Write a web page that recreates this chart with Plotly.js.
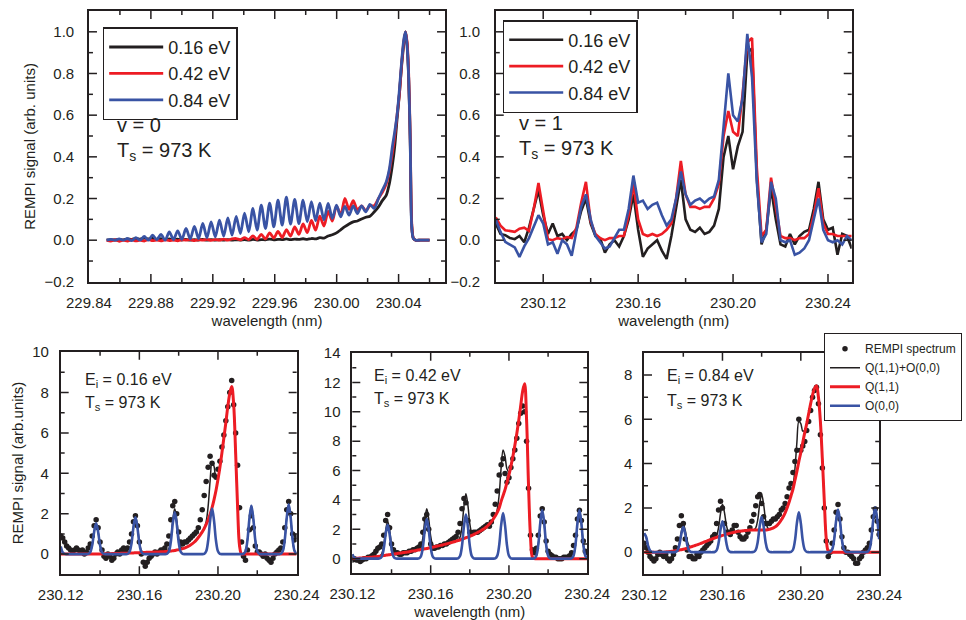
<!DOCTYPE html>
<html>
<head>
<meta charset="utf-8">
<script src="https://cdn.plot.ly/plotly-3.0.1.min.js"></script>
<style>html,body{margin:0;padding:0;background:#fff;}#chart{width:966px;height:620px;}</style>
</head>
<body>
<div id="chart"></div>
<script>
// ---------- Top-left panel (v = 0) ----------
const xTL = [229.8514, 229.8541, 229.8568, 229.8595, 229.8622, 229.8649, 229.8676, 229.8703, 229.8730, 229.8757,
  229.8784, 229.8811, 229.8838, 229.8865, 229.8892, 229.8919, 229.8946, 229.8973, 229.9000, 229.9027,
  229.9054, 229.9081, 229.9108, 229.9135, 229.9162, 229.9189, 229.9216, 229.9243, 229.9270, 229.9297,
  229.9324, 229.9351, 229.9378, 229.9405, 229.9432, 229.9459, 229.9486, 229.9513, 229.9540, 229.9567,
  229.9594, 229.9621, 229.9648, 229.9675, 229.9702, 229.9729, 229.9756, 229.9783, 229.9810, 229.9837,
  229.9864, 229.9891, 229.9918, 229.9945, 229.9972, 229.9999, 230.0026, 230.0053, 230.0080, 230.0107,
  230.0134, 230.0161, 230.0188, 230.0215, 230.0242,
  230.0270, 230.0295, 230.0320, 230.0340, 230.0360, 230.0375, 230.0390, 230.0405, 230.0420, 230.0435,
  230.0445, 230.0455, 230.0465, 230.0475, 230.0485, 230.0495, 230.0510, 230.0540, 230.0570, 230.0600];
const tlBlack = [0.0, 0.003, 0.001, 0.004, 0.002, 0.006, 0.004, 0.008, 0.005, 0.01,
  0.006, 0.009, 0.004, 0.007, 0.003, 0.006, 0.002, 0.005, 0.001, 0.004,
  0.0, 0.003, 0.001, 0.004, 0.0, 0.003, 0.001, 0.002, 0.0, 0.003,
  0.0, 0.002, 0.001, 0.003, 0.0, 0.004, 0.001, 0.003, 0.002, 0.005,
  0.002, 0.004, 0.003, 0.006, 0.003, 0.005, 0.004, 0.007, 0.004, 0.008,
  0.006, 0.012, 0.01, 0.02, 0.026, 0.035, 0.05, 0.065, 0.078, 0.088,
  0.092, 0.102, 0.11, 0.115, 0.135,
  0.16, 0.19, 0.215, 0.27, 0.36, 0.45, 0.58, 0.7, 0.84, 0.95,
  1.0, 0.94, 0.78, 0.48, 0.07, 0.01, 0.0, 0.0, 0.0, 0.0];
const tlRed = [0.0, -0.004, 0.002, -0.005, 0.0, -0.004, 0.002, -0.003, 0.0, -0.004,
  0.003, -0.002, 0.0, -0.003, 0.002, -0.002, 0.001, -0.003, 0.002, 0.0,
  0.003, -0.002, 0.002, 0.0, 0.004, -0.001, 0.003, 0.0, 0.005, 0.0,
  0.006, 0.008, 0.002, 0.012, 0.003, 0.02, 0.004, 0.028, 0.006, 0.035,
  0.01, 0.042, 0.013, 0.05, 0.02, 0.064, 0.028, 0.078, 0.036, 0.095,
  0.048, 0.115, 0.068, 0.138, 0.092, 0.165, 0.12, 0.2, 0.148, 0.19,
  0.145, 0.165, 0.142, 0.165, 0.165,
  0.2, 0.23, 0.27, 0.33, 0.42, 0.5, 0.6, 0.7, 0.85, 0.96,
  1.0, 0.95, 0.8, 0.5, 0.08, 0.01, 0.0, 0.0, 0.0, 0.0];
const tlBlue = [0.0, 0.004, 0.0, 0.006, 0.0, 0.008, -0.002, 0.012, 0.0, 0.018,
  0.0, 0.024, 0.002, 0.028, 0.0, 0.04, 0.003, 0.045, 0.004, 0.056,
  0.006, 0.066, 0.008, 0.08, 0.012, 0.088, 0.016, 0.096, 0.02, 0.107,
  0.024, 0.114, 0.032, 0.13, 0.04, 0.152, 0.048, 0.168, 0.056, 0.178,
  0.064, 0.192, 0.072, 0.206, 0.077, 0.196, 0.08, 0.192, 0.088, 0.185,
  0.093, 0.178, 0.098, 0.176, 0.104, 0.168, 0.112, 0.162, 0.12, 0.165,
  0.128, 0.165, 0.136, 0.172, 0.152,
  0.2, 0.24, 0.28, 0.34, 0.45, 0.52, 0.6, 0.72, 0.86, 0.97,
  1.0, 0.93, 0.78, 0.48, 0.06, 0.008, 0.0, 0.0, 0.0, 0.0];

// ---------- Top-right panel (v = 1) ----------
const xTR = [230.100, 230.102, 230.104, 230.106, 230.108, 230.110, 230.112, 230.114, 230.116, 230.118,
  230.120, 230.122, 230.124, 230.126, 230.128, 230.130, 230.132, 230.134, 230.136, 230.138,
  230.140, 230.142, 230.144, 230.146, 230.148, 230.150, 230.152, 230.154, 230.156, 230.158,
  230.160, 230.162, 230.164, 230.166, 230.168, 230.170, 230.172, 230.174, 230.176, 230.178,
  230.180, 230.182, 230.184, 230.186, 230.188, 230.190, 230.192, 230.194, 230.196, 230.198,
  230.200, 230.202, 230.204, 230.206, 230.208, 230.210, 230.212, 230.214, 230.216, 230.218,
  230.220, 230.222, 230.224, 230.226, 230.228, 230.230, 230.232, 230.234, 230.236, 230.238,
  230.240, 230.242, 230.244, 230.246, 230.248, 230.250];
const trBlack = [0.08, 0.03, 0.024, 0.01, 0.005, 0.02, -0.01, 0.06, 0.15, 0.24,
  0.12, 0.03, 0.08, 0.02, 0.03, 0.0, 0.03, 0.05, 0.14, 0.2,
  0.08, 0.02, 0.01, -0.06, -0.02, 0.0, -0.03, 0.02, 0.1, 0.22,
  0.05, -0.08, -0.04, -0.02, 0.0, -0.05, -0.09, 0.02, 0.15, 0.29,
  0.1, 0.05, 0.04, 0.06, 0.03, 0.04, 0.07, 0.15, 0.4, 0.5,
  0.34, 0.45, 0.52, 0.9, 0.92, 0.3, -0.02, 0.05, 0.25, 0.1,
  -0.02, -0.03, 0.03, -0.02, 0.02, 0.04, 0.05, 0.15, 0.28, 0.1,
  0.05, 0.06, -0.07, 0.03, 0.02, -0.04];
const trRed = [0.11, 0.07, 0.048, 0.045, 0.04, 0.055, 0.06, 0.045, 0.15, 0.275,
  0.14, 0.005, 0.0, 0.01, 0.005, 0.015, 0.01, 0.06, 0.18, 0.28,
  0.09, 0.03, 0.01, 0.0, 0.01, 0.01, 0.02, 0.02, 0.12, 0.27,
  0.1, 0.03, 0.02, 0.03, 0.02, 0.03, 0.05, 0.08, 0.2, 0.38,
  0.22, 0.16, 0.16, 0.15, 0.16, 0.16, 0.2, 0.27, 0.5, 0.62,
  0.52, 0.5, 0.7, 0.95, 0.97, 0.35, 0.02, 0.05, 0.3, 0.15,
  0.02, 0.01, 0.01, 0.0, 0.01, 0.01, 0.03, 0.12, 0.25, 0.08,
  0.03, 0.03, 0.02, 0.02, 0.02, 0.02];
const trBlue = [0.10, 0.04, -0.008, -0.02, -0.035, -0.08, -0.03, 0.01, 0.07, 0.12,
  0.08, -0.02, -0.01, -0.065, 0.0, -0.02, -0.075, 0.05, 0.16, 0.22,
  0.1, 0.02, -0.01, -0.04, -0.03, 0.01, 0.05, 0.05, 0.15, 0.31,
  0.18, 0.19, 0.15, 0.17, 0.18, 0.12, 0.07, 0.1, 0.2, 0.33,
  0.22, 0.17, 0.19, 0.2, 0.18, 0.2, 0.21, 0.29, 0.55, 0.8,
  0.6, 0.57, 0.68, 0.99, 0.78, 0.28, -0.01, 0.03, 0.28, 0.2,
  0.0, -0.01, 0.0, -0.07, -0.06, -0.04, 0.0, 0.1, 0.2, 0.05,
  0.0, -0.01, 0.0, -0.02, 0.02, 0.0];

// ---------- Bottom panels (shared wavelength grid) ----------
const xB = [230.120, 230.121, 230.122, 230.123, 230.124, 230.125, 230.126, 230.127, 230.128, 230.129,
  230.130, 230.131, 230.132, 230.133, 230.134, 230.135, 230.136, 230.137, 230.138, 230.139,
  230.140, 230.141, 230.142, 230.143, 230.144, 230.145, 230.146, 230.147, 230.148, 230.149,
  230.150, 230.151, 230.152, 230.153, 230.154, 230.155, 230.156, 230.157, 230.158, 230.159,
  230.160, 230.161, 230.162, 230.163, 230.164, 230.165, 230.166, 230.167, 230.168, 230.169,
  230.170, 230.171, 230.172, 230.173, 230.174, 230.175, 230.176, 230.177, 230.178, 230.179,
  230.180, 230.181, 230.182, 230.183, 230.184, 230.185, 230.186, 230.187, 230.188, 230.189,
  230.190, 230.191, 230.192, 230.193, 230.194, 230.195, 230.196, 230.197, 230.198, 230.199,
  230.200, 230.201, 230.202, 230.203, 230.204, 230.205, 230.206, 230.207, 230.208, 230.209,
  230.210, 230.211, 230.212, 230.213, 230.214, 230.215, 230.216, 230.217, 230.218, 230.219,
  230.220, 230.221, 230.222, 230.223, 230.224, 230.225, 230.226, 230.227, 230.228, 230.229,
  230.230, 230.231, 230.232, 230.233, 230.234, 230.235, 230.236, 230.237, 230.238, 230.239,
  230.240];

// E_i = 0.16 eV
const p1Dots = [0.9, 0.8, 0.6, 0.4, 0.3, 0.2, 0.1, 0.2, 0.3, 0.2,
  0.1, 0.2, 0.0, 0.1, 0.3, 0.5, 0.9, 1.4, 1.7, 1.3,
  0.6, 0.2, -0.1, -0.2, 0.0, -0.1, -0.3, -0.2, 0.0, 0.1,
  0.0, 0.2, 0.3, 0.2, 0.3, 0.6, 1.0, 1.6, 1.9, 1.4,
  0.6, 0.0, -0.4, -0.6, -0.4, -0.2, -0.1, 0.0, 0.1, 0.0,
  0.1, 0.2, 0.2, 0.3, 0.5, 0.9, 1.7, 2.4, 2.6, 2.0,
  1.1, 0.6, 0.5, 0.6, 0.6, 0.7, 0.8, 0.9, 1.0, 1.1,
  1.3, 1.7, 2.2, 2.9, 3.6, 4.3, 4.85, 4.5, 3.9, 3.8,
  4.2, 4.6, 5.3, 5.9, 6.6, 7.3, 8.0, 8.6, 7.4, 6.0,
  4.4, 2.3, 0.6, -0.1, -0.3, 0.2, 1.2, 1.9, 1.3, 0.4,
  0.1, 0.1, 0.0, -0.1, 0.0, -0.2, -0.3, -0.4, -0.2, 0.0,
  0.1, 0.2, 0.3, 0.6, 1.3, 2.2, 2.6, 2.0, 1.0, 0.7,
  0.9];
const p1Q11 = [0, 0, 0, 0, 0, 0, 0, 0, 0, 0,
  0, 0, 0, 0, 0, 0, 0, 0, 0, 0.005,
  0.01, 0.012, 0.015, 0.017, 0.02, 0.022, 0.025, 0.028, 0.03, 0.033,
  0.036, 0.039, 0.042, 0.045, 0.048, 0.052, 0.056, 0.06, 0.064, 0.068,
  0.072, 0.076, 0.08, 0.084, 0.088, 0.092, 0.096, 0.1, 0.104, 0.108,
  0.11, 0.115, 0.12, 0.125, 0.13, 0.14, 0.15, 0.165, 0.18, 0.2,
  0.22, 0.245, 0.27, 0.3, 0.34, 0.39, 0.45, 0.52, 0.6, 0.7,
  0.82, 0.95, 1.1, 1.27, 1.47, 1.7, 1.97, 2.3, 2.7, 3.15,
  3.7, 4.3, 5.0, 5.75, 6.5, 7.3, 7.95, 8.3, 7.4, 5.0,
  2.3, 0.4, 0, 0, 0, 0, 0, 0, 0, 0,
  0, 0, 0, 0, 0, 0, 0, 0, 0, 0,
  0, 0, 0, 0, 0, 0, 0, 0, 0, 0,
  0];
const p1O00 = [0.37, 0.08, 0.01, 0, 0, 0, 0, 0, 0, 0,
  0, 0, 0, 0, 0.01, 0.09, 0.44, 1.11, 1.52, 1.11,
  0.44, 0.09, 0.01, 0, 0, 0, 0, 0, 0, 0,
  0, 0, 0, 0, 0.01, 0.11, 0.53, 1.33, 1.82, 1.33,
  0.53, 0.11, 0.01, 0, 0, 0, 0, 0, 0, 0,
  0, 0, 0, 0, 0.015, 0.12, 0.6, 1.51, 2.07, 1.51,
  0.6, 0.12, 0.015, 0, 0, 0, 0, 0, 0, 0,
  0, 0, 0, 0.016, 0.14, 0.66, 1.65, 2.26, 1.65, 0.66,
  0.14, 0.016, 0, 0, 0, 0, 0, 0, 0, 0,
  0, 0, 0, 0.017, 0.14, 0.69, 1.74, 2.39, 1.74, 0.69,
  0.14, 0.017, 0, 0, 0, 0, 0, 0, 0, 0,
  0, 0, 0.017, 0.15, 0.72, 1.8, 2.47, 1.8, 0.72, 0.15,
  0.017];

// E_i = 0.42 eV
const p2Dots = [-0.1, 0.0, -0.1, -0.1, -0.2, -0.1, 0.0, 0.0, 0.1, 0.1,
  0.2, 0.3, 0.5, 0.7, 0.8, 1.0, 1.6, 2.6, 3.0, 2.1,
  1.0, 0.6, 0.4, 0.4, 0.3, 0.3, 0.4, 0.4, 0.4, 0.5,
  0.5, 0.6, 0.6, 0.7, 0.8, 1.0, 1.8, 2.7, 3.0, 2.0,
  1.0, 0.7, 0.7, 0.8, 0.8, 0.9, 0.9, 1.0, 1.0, 1.1,
  1.2, 1.3, 1.4, 1.5, 1.8, 2.4, 3.4, 4.1, 3.8, 2.6,
  1.8, 1.7, 1.8, 1.8, 1.8, 1.9, 2.0, 2.1, 2.2, 2.3,
  2.2, 2.5, 3.0, 3.7, 4.6, 5.7, 6.4, 6.8, 5.8, 5.2,
  5.5, 6.2, 6.8, 7.4, 8.2, 9.2, 9.9, 10.4, 10.0, 8.0,
  4.8, 1.6, 0.6, 0.4, 0.7, 1.6, 2.9, 3.4, 2.5, 1.2,
  0.5, 0.3, 0.2, 0.1, 0.1, 0.0, 0.0, 0.0, 0.1, 0.1,
  0.1, 0.2, 0.4, 0.9, 1.6, 2.7, 3.3, 2.6, 1.2, 0.5,
  0.4];
const p2Q11 = [0, 0.01, 0.02, 0.03, 0.04, 0.05, 0.06, 0.07, 0.08, 0.09,
  0.1, 0.12, 0.13, 0.15, 0.17, 0.19, 0.21, 0.23, 0.25, 0.27,
  0.29, 0.31, 0.33, 0.35, 0.37, 0.39, 0.41, 0.43, 0.45, 0.47,
  0.5, 0.52, 0.54, 0.57, 0.59, 0.62, 0.64, 0.67, 0.69, 0.72,
  0.75, 0.78, 0.81, 0.84, 0.87, 0.9, 0.93, 0.97, 1.0, 1.04,
  1.07, 1.11, 1.15, 1.19, 1.23, 1.27, 1.32, 1.37, 1.42, 1.47,
  1.52, 1.58, 1.64, 1.71, 1.78, 1.85, 1.93, 2.01, 2.1, 2.22,
  2.35, 2.5, 2.7, 2.9, 3.15, 3.45, 3.9, 4.3, 4.7, 5.2,
  5.7, 6.3, 6.95, 7.7, 8.5, 9.4, 10.4, 11.4, 11.9, 9.5,
  5.0, 1.5, 0.1, 0, 0, 0, 0, 0, 0, 0,
  0, 0, 0, 0, 0, 0, 0, 0, 0, 0,
  0, 0, 0, 0, 0, 0, 0, 0, 0, 0,
  0];
const p2O00 = [0.3, 0.05, 0, 0, 0, 0, 0, 0, 0, 0,
  0, 0, 0, 0, 0.016, 0.14, 0.67, 1.68, 2.3, 1.68,
  0.67, 0.14, 0.016, 0, 0, 0, 0, 0, 0, 0,
  0, 0, 0, 0, 0.02, 0.16, 0.78, 1.97, 2.7, 1.97,
  0.78, 0.16, 0.02, 0, 0, 0, 0, 0, 0, 0,
  0, 0, 0, 0, 0.02, 0.18, 0.87, 2.19, 3.0, 2.19,
  0.87, 0.18, 0.02, 0, 0, 0, 0, 0, 0, 0,
  0, 0, 0, 0.02, 0.19, 0.9, 2.26, 3.1, 2.26, 0.9,
  0.19, 0.02, 0, 0, 0, 0, 0, 0, 0, 0,
  0, 0, 0, 0.02, 0.2, 0.96, 2.41, 3.3, 2.41, 0.96,
  0.2, 0.02, 0, 0, 0, 0, 0, 0, 0, 0,
  0, 0, 0.02, 0.2, 0.96, 2.41, 3.3, 2.41, 0.96, 0.2,
  0.02];

// E_i = 0.84 eV
const p3Dots = [0.4, 0.2, 0.0, -0.2, -0.3, -0.4, -0.3, -0.1, 0.0, -0.1,
  -0.2, -0.1, -0.3, -0.4, -0.3, -0.1, 0.2, 0.6, 1.2, 1.65,
  1.3, 0.6, 0.1, -0.2, -0.2, -0.3, -0.3, -0.1, -0.2, 0.0,
  0.1, 0.2, 0.3, 0.4, 0.5, 0.7, 0.8, 1.3, 1.9, 2.3,
  2.0, 1.3, 0.9, 0.9, 0.8, 1.0, 1.2, 1.2, 0.9, 0.7,
  0.6, 0.6, 0.7, 0.9, 1.1, 1.4, 1.7, 2.1, 2.5, 2.6,
  2.2, 1.6, 1.3, 1.3, 1.3, 1.4, 1.5, 1.5, 1.6, 1.7,
  1.9, 2.0, 2.2, 2.5, 2.9, 3.1, 3.6, 4.1, 4.6, 6.0,
  4.6, 4.8, 5.0, 5.5, 5.9, 6.4, 7.0, 7.3, 7.45, 6.7,
  5.3, 3.8, 2.0, 0.5, -0.2, 0.0, 0.4, 1.0, 1.8, 2.15,
  1.5, 0.7, 0.2, 0.0, 0.0, -0.1, -0.2, -0.3, -0.5, -0.5,
  -0.3, -0.2, 0.0, 0.1, 0.2, 0.4, 1.0, 1.6, 1.95, 1.4,
  0.8];
const p3Q11 = [0, 0, 0, 0, 0, 0, 0, 0, 0, 0,
  0.0, 0.01, 0.02, 0.03, 0.04, 0.05, 0.07, 0.08, 0.1, 0.11,
  0.13, 0.16, 0.18, 0.21, 0.24, 0.27, 0.3, 0.33, 0.36, 0.4,
  0.43, 0.47, 0.5, 0.54, 0.57, 0.61, 0.64, 0.67, 0.7, 0.73,
  0.76, 0.78, 0.81, 0.84, 0.86, 0.88, 0.9, 0.92, 0.94, 0.95,
  0.96, 0.97, 0.98, 0.99, 1.0, 1.0, 1.0, 1.0, 1.0, 1.0,
  1.0, 1.0, 1.0, 1.01, 1.03, 1.06, 1.1, 1.15, 1.22, 1.32,
  1.45, 1.6, 1.78, 2.0, 2.25, 2.55, 2.85, 3.25, 3.65, 4.1,
  4.5, 4.95, 5.4, 5.8, 6.25, 6.7, 7.1, 7.4, 7.52, 7.0,
  5.9, 4.2, 2.3, 0.6, 0.05, 0, 0, 0, 0, 0,
  0, 0, 0, 0, 0, 0, 0, 0, 0, 0,
  0, 0, 0, 0, 0, 0, 0, 0, 0, 0,
  0];
const p3O00 = [0.85, 0.7, 0.3, 0.07, 0.01, 0, 0, 0, 0, 0,
  0, 0, 0, 0, 0, 0, 0.008, 0.07, 0.33, 0.82,
  1.13, 0.82, 0.33, 0.07, 0.008, 0, 0, 0, 0, 0,
  0, 0, 0, 0, 0, 0, 0.01, 0.08, 0.41, 1.02,
  1.4, 1.02, 0.41, 0.08, 0.01, 0, 0, 0, 0, 0,
  0, 0, 0, 0, 0, 0, 0.01, 0.1, 0.46, 1.17,
  1.6, 1.17, 0.46, 0.1, 0.01, 0, 0, 0, 0, 0,
  0, 0, 0, 0, 0, 0.013, 0.11, 0.52, 1.31, 1.8,
  1.31, 0.52, 0.11, 0.013, 0, 0, 0, 0, 0, 0,
  0, 0, 0, 0, 0, 0.013, 0.12, 0.56, 1.4, 1.92,
  1.4, 0.56, 0.12, 0.013, 0, 0, 0, 0, 0, 0,
  0, 0, 0, 0, 0.014, 0.12, 0.59, 1.48, 2.03, 1.48,
  0.59];

// ---------- Labels ----------
const energyNames = ['0.16 eV', '0.42 eV', '0.84 eV'];
const fitNames = ['REMPI spectrum', 'Q(1,1)+O(0,0)', 'Q(1,1)', 'O(0,0)'];

// ---------- Tick-mark positions (inward ticks on all four sides) ----------
const tlXMajor = [229.88, 229.92, 229.96, 230.00, 230.04];
const tlXMinor = [229.86, 229.90, 229.94, 229.98, 230.02, 230.06];
const topYMajor = [0, 0.2, 0.4, 0.6, 0.8, 1.0];
const topYMinor = [-0.1, 0.1, 0.3, 0.5, 0.7, 0.9];
const trXMajor = [230.12, 230.16, 230.20, 230.24];
const trXMinor = [230.14, 230.18, 230.22];
const bXMajor = [230.16, 230.20];
const bXMinor = [230.14, 230.18, 230.22];
const p1YMajor = [0, 2, 4, 6, 8];
const p1YMinor = [1, 3, 5, 7, 9];
const p2YMajor = [0, 2, 4, 6, 8, 10, 12];
const p2YMinor = [1, 3, 5, 7, 9, 11, 13];
const p3YMajor = [0, 2, 4, 6, 8];
const p3YMinor = [1, 3, 5, 7];

const sumOf = (a, b) => a.map((v, i) => v + b[i]);

const BLACK = '#231f20', RED = '#ed1c24', BLUE = '#3953a4';
const FONT = 'Liberation Sans, Arial, Helvetica, sans-serif';

const traces = [];
const topSeries = [[tlBlack, trBlack, BLACK], [tlRed, trRed, RED], [tlBlue, trBlue, BLUE]];
topSeries.forEach((s, k) => {
  traces.push({x: xTL, y: s[0], xaxis: 'x', yaxis: 'y', type: 'scatter', mode: 'lines',
    line: {color: s[2], width: 2.8, shape: 'spline', smoothing: 0.8}, name: energyNames[k], legend: 'legend'});
  traces.push({x: xTR, y: s[1], xaxis: 'x2', yaxis: 'y2', type: 'scatter', mode: 'lines',
    line: {color: s[2], width: 2.6}, name: energyNames[k], legend: 'legend2'});
});

const bottom = [[p1Dots, p1Q11, p1O00, 'x3', 'y3'], [p2Dots, p2Q11, p2O00, 'x4', 'y4'], [p3Dots, p3Q11, p3O00, 'x5', 'y5']];
bottom.forEach((p, k) => {
  const show = k === 0;
  traces.push({x: xB, y: sumOf(p[1], p[2]), xaxis: p[3], yaxis: p[4], type: 'scatter', mode: 'lines',
    line: {color: BLACK, width: 1.5, shape: 'spline'}, name: fitNames[1], legend: 'legend3', legendrank: 2, showlegend: show});
  traces.push({x: xB, y: p[0], xaxis: p[3], yaxis: p[4], type: 'scatter', mode: 'markers',
    marker: {color: BLACK, size: 5.5}, name: fitNames[0], legend: 'legend3', legendrank: 1, showlegend: show});
  traces.push({x: xB, y: p[1], xaxis: p[3], yaxis: p[4], type: 'scatter', mode: 'lines',
    line: {color: RED, width: 3, shape: 'spline'}, name: fitNames[2], legend: 'legend3', legendrank: 3, showlegend: show});
  traces.push({x: xB, y: p[2], xaxis: p[3], yaxis: p[4], type: 'scatter', mode: 'lines',
    line: {color: BLUE, width: 2.6, shape: 'spline'}, name: fitNames[3], legend: 'legend3', legendrank: 4, showlegend: show});
});

// Inward tick marks drawn as pixel-sized shapes anchored to axis values.
const shapes = [];
const tickLine = {color: BLACK, width: 1.5};
function xTickMarks(xa, ya, vals, len) {
  vals.forEach(v => {
    shapes.push({type: 'line', xref: xa, yref: ya + ' domain', x0: v, x1: v, ysizemode: 'pixel', yanchor: 0, y0: 0, y1: len, line: tickLine});
    shapes.push({type: 'line', xref: xa, yref: ya + ' domain', x0: v, x1: v, ysizemode: 'pixel', yanchor: 1, y0: 0, y1: -len, line: tickLine});
  });
}
function yTickMarks(xa, ya, vals, len) {
  vals.forEach(v => {
    shapes.push({type: 'line', xref: xa + ' domain', yref: ya, y0: v, y1: v, xsizemode: 'pixel', xanchor: 0, x0: 0, x1: len, line: tickLine});
    shapes.push({type: 'line', xref: xa + ' domain', yref: ya, y0: v, y1: v, xsizemode: 'pixel', xanchor: 1, x0: 0, x1: -len, line: tickLine});
  });
}
const MAJ = 8, MIN = 4;
xTickMarks('x', 'y', tlXMajor, MAJ); xTickMarks('x', 'y', tlXMinor, MIN);
yTickMarks('x', 'y', topYMajor, MAJ); yTickMarks('x', 'y', topYMinor, MIN);
xTickMarks('x2', 'y2', trXMajor, MAJ); xTickMarks('x2', 'y2', trXMinor, MIN);
yTickMarks('x2', 'y2', topYMajor, MAJ); yTickMarks('x2', 'y2', topYMinor, MIN);
[['x3', 'y3', p1YMajor, p1YMinor], ['x4', 'y4', p2YMajor, p2YMinor], ['x5', 'y5', p3YMajor, p3YMinor]].forEach(a => {
  xTickMarks(a[0], a[1], bXMajor, MAJ); xTickMarks(a[0], a[1], bXMinor, MIN);
  yTickMarks(a[0], a[1], a[2], MAJ); yTickMarks(a[0], a[1], a[3], MIN);
});

function axis(extra) {
  return Object.assign({
    showline: true, linecolor: BLACK, linewidth: 1.5, mirror: true,
    ticks: '', showgrid: false, zeroline: false, tickmode: 'linear',
    tickfont: {family: FONT, size: 15, color: BLACK}
  }, extra);
}
const titleFont = {family: FONT, size: 15, color: BLACK};

const ann = (x, y, text, size) => ({xref: 'paper', yref: 'paper', x: x, y: y, xanchor: 'left', yanchor: 'middle',
  text: text, showarrow: false, font: {family: FONT, size: size, color: BLACK}});

const layout = {
  width: 966, height: 620, margin: {l: 0, r: 0, t: 0, b: 0},
  paper_bgcolor: '#fff', plot_bgcolor: '#fff', font: {family: FONT, color: BLACK},
  xaxis: axis({domain: [0.0921, 0.4607], anchor: 'y', range: [229.84, 230.07], ticklabelstandoff: 6,
    tick0: 229.84, dtick: 0.04, tickformat: '.2f',
    title: {text: 'wavelength (nm)', font: titleFont, standoff: 6}}),
  yaxis: axis({domain: [0.5452, 0.9823], anchor: 'x', range: [-0.2005, 1.1], ticklabelstandoff: 10,
    tick0: 0, dtick: 0.2, tickformat: '.1f',
    title: {text: 'REMPI signal (arb. units)', font: titleFont, standoff: 5}}),
  xaxis2: axis({domain: [0.5132, 0.8817], anchor: 'y2', range: [230.10, 230.25], ticklabelstandoff: 6,
    tick0: 230.12, dtick: 0.04, tickformat: '.2f',
    title: {text: 'wavelength (nm)', font: titleFont, standoff: 6}}),
  yaxis2: axis({domain: [0.5452, 0.9823], anchor: 'x2', range: [-0.2005, 1.1], ticklabelstandoff: 11,
    tick0: 0, dtick: 0.2, tickformat: '.1f'}),
  xaxis3: axis({domain: [0.0628, 0.3071], anchor: 'y3', range: [230.11995, 230.24005], ticklabelstandoff: 6,
    tick0: 230.12, dtick: 0.04, tickformat: '.2f'}),
  yaxis3: axis({domain: [0.0737, 0.4327], anchor: 'x3', range: [-1, 10.02], ticklabelstandoff: 7,
    tick0: 0, dtick: 2,
    title: {text: 'REMPI signal (arb.units)', font: titleFont, standoff: 5}}),
  xaxis4: axis({domain: [0.3647, 0.6080], anchor: 'y4', range: [230.11995, 230.24005], ticklabelstandoff: 6,
    tick0: 230.12, dtick: 0.04, tickformat: '.2f',
    title: {text: 'wavelength (nm)', font: titleFont, standoff: 6}}),
  yaxis4: axis({domain: [0.0753, 0.4311], anchor: 'x4', range: [-1, 14.02], ticklabelstandoff: 7,
    tick0: 0, dtick: 2}),
  xaxis5: axis({domain: [0.6667, 0.9102], anchor: 'y5', range: [230.11995, 230.24005], ticklabelstandoff: 6,
    tick0: 230.12, dtick: 0.04, tickformat: '.2f'}),
  yaxis5: axis({domain: [0.0737, 0.4311], anchor: 'x5', range: [-1, 9.01], ticklabelstandoff: 7,
    tick0: 0, dtick: 2}),
  legend: {x: 0.1063, y: 0.956, xanchor: 'left', yanchor: 'top', bgcolor: '#fff', itemwidth: 54,
    bordercolor: BLACK, borderwidth: 1.5, font: {family: FONT, size: 18, color: BLACK}, tracegroupgap: 0},
  legend2: {x: 0.5204, y: 0.9677, xanchor: 'left', yanchor: 'top', bgcolor: '#fff', itemwidth: 54,
    bordercolor: BLACK, borderwidth: 1.5, font: {family: FONT, size: 18, color: BLACK}, tracegroupgap: 0},
  legend3: {x: 0.853, y: 0.4624, xanchor: 'left', yanchor: 'top', bgcolor: '#fff',
    bordercolor: BLACK, borderwidth: 1, font: {family: FONT, size: 12, color: BLACK}, tracegroupgap: 0},
  shapes: shapes,
  annotations: [
    ann(0.119, 0.7984, 'v = 0', 20),
    ann(0.119, 0.7560, 'T<sub>s</sub> = 973 K', 20),
    ann(0.5349, 0.8016, 'v = 1', 20),
    ann(0.5349, 0.7590, 'T<sub>s</sub> = 973 K', 20),
    ann(0.0859, 0.3860, 'E<sub>i</sub> = 0.16 eV', 16),
    ann(0.0859, 0.3500, 'T<sub>s</sub> = 973 K', 16),
    ann(0.3848, 0.3925, 'E<sub>i</sub> = 0.42 eV', 16),
    ann(0.3848, 0.3555, 'T<sub>s</sub> = 973 K', 16),
    ann(0.6884, 0.3925, 'E<sub>i</sub> = 0.84 eV', 16),
    ann(0.6884, 0.3527, 'T<sub>s</sub> = 973 K', 16)
  ]
};

Plotly.newPlot('chart', traces, layout, {displayModeBar: false});
</script>
</body>
</html>
